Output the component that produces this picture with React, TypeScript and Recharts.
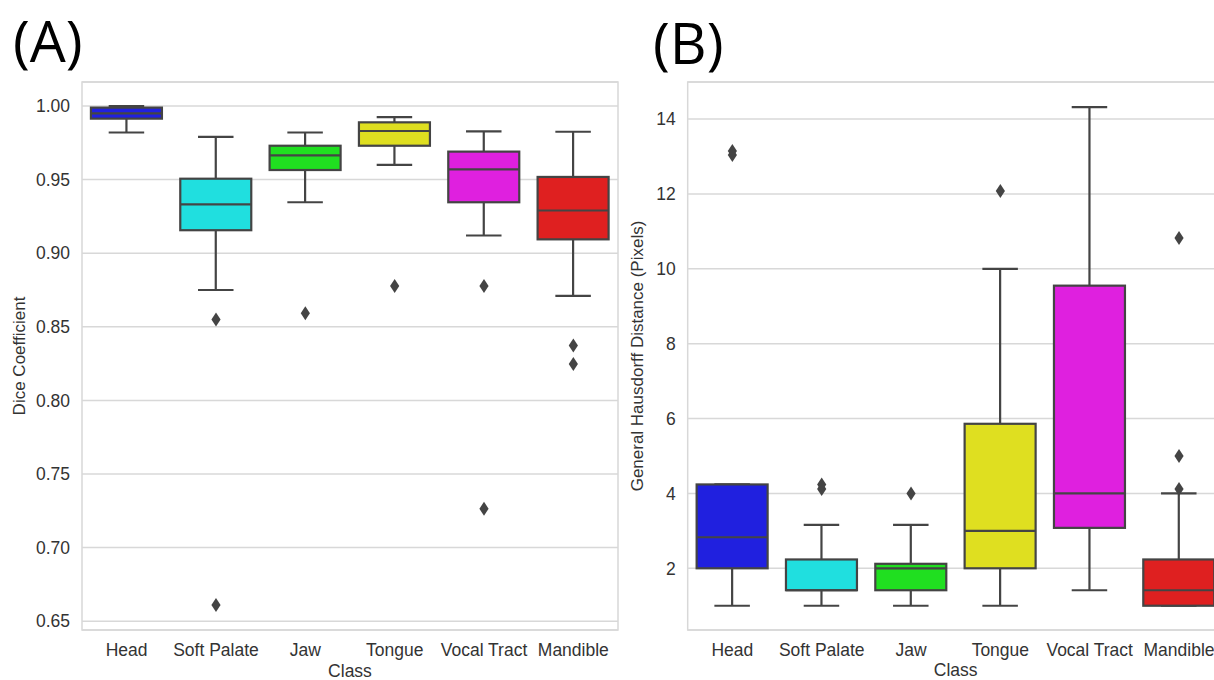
import React from 'react';
import { ComposedChart, Bar, Line, XAxis, YAxis, CartesianGrid, ReferenceArea } from 'recharts';

const classes = ['Head', 'Soft Palate', 'Jaw', 'Tongue', 'Vocal Tract', 'Mandible'];
const boxColors = ['#2020df', '#20dfdf', '#20df20', '#dfdf20', '#df20df', '#df2020'];

// Panel A: Dice coefficient
const diceLow = [0.982, 0.875, 0.9346, 0.96, 0.912, 0.871];
const diceQ1 = [0.9914, 0.9156, 0.9565, 0.973, 0.9346, 0.9094];
const diceMed = [0.995, 0.9332, 0.9665, 0.983, 0.957, 0.929];
const diceQ3 = [0.9989, 0.9506, 0.973, 0.9889, 0.969, 0.9518];
const diceHigh = [1.0, 0.979, 0.982, 0.9925, 0.9828, 0.9825];
const diceOutliers = [[], [0.855, 0.661], [0.8592], [0.8777], [0.8777, 0.7263], [0.8373, 0.8247]];
const diceTicks = [0.65, 0.7, 0.75, 0.8, 0.85, 0.9, 0.95, 1.0];
const diceDomain = [0.644, 1.0163];

// Panel B: General Hausdorff distance
const hausLow = [1.0, 1.0, 1.0, 1.0, 1.414, 1.0];
const hausQ1 = [2.0, 1.414, 1.414, 2.0, 3.08, 1.0];
const hausMed = [2.83, 1.414, 2.0, 3.0, 4.0, 1.414];
const hausQ3 = [4.24, 2.236, 2.12, 5.86, 9.55, 2.236];
const hausHigh = [4.24, 3.162, 3.162, 10.0, 14.32, 4.0];
const hausOutliers = [[13.04, 13.15], [4.12, 4.24], [4.0], [12.08], [], [4.12, 5.0, 10.82]];
const hausTicks = [2, 4, 6, 8, 10, 12, 14];
const hausDomain = [0.352, 14.99];

const LINE = '#444444';
const GRID = '#d8d8d8';
const FONT = '"Liberation Sans", Arial, sans-serif';

function buildRows(lo: number[], q1: number[], med: number[], q3: number[], hi: number[], out: number[][]) {
  return classes.map((c, i) => ({
    cls: c,
    color: boxColors[i],
    lo: lo[i],
    q1: q1[i],
    med: med[i],
    q3: q3[i],
    hi: hi[i],
    range: [lo[i], hi[i]],
    o0: out[i][0] ?? null,
    o1: out[i][1] ?? null,
    o2: out[i][2] ?? null,
  }));
}

const diceRows = buildRows(diceLow, diceQ1, diceMed, diceQ3, diceHigh, diceOutliers);
const hausRows = buildRows(hausLow, hausQ1, hausMed, hausQ3, hausHigh, hausOutliers);

function BoxShape(props: any) {
  const { x, y, width, height } = props;
  const p = props.payload ?? props;
  const top = Math.min(y, y + height);
  const bot = Math.max(y, y + height);
  const span = p.hi - p.lo;
  const py = (v: number) => (span === 0 ? top : bot - ((v - p.lo) / span) * (bot - top));
  const cx = x + width / 2;
  const cap = width / 4;
  const yq1 = py(p.q1);
  const yq3 = py(p.q3);
  const ym = py(p.med);
  return (
    <g>
      <line x1={cx} x2={cx} y1={bot} y2={yq1} stroke={LINE} strokeWidth={2.2} />
      <line x1={cx} x2={cx} y1={yq3} y2={top} stroke={LINE} strokeWidth={2.2} />
      <line x1={cx - cap} x2={cx + cap} y1={bot} y2={bot} stroke={LINE} strokeWidth={2.2} />
      <line x1={cx - cap} x2={cx + cap} y1={top} y2={top} stroke={LINE} strokeWidth={2.2} />
      <rect x={x} y={yq3} width={width} height={Math.max(yq1 - yq3, 0.5)} fill={p.color} stroke={LINE} strokeWidth={2.2} />
      <line x1={x} x2={x + width} y1={ym} y2={ym} stroke={LINE} strokeWidth={2.2} />
    </g>
  );
}

function Diamond(props: any) {
  const { cx, cy, value } = props;
  if (value == null || cy == null || cx == null || isNaN(cy)) return null;
  const w = 4.6;
  const h = 7;
  return <polygon points={`${cx},${cy - h} ${cx + w},${cy} ${cx},${cy + h} ${cx - w},${cy}`} fill={LINE} />;
}

function YTitle(props: any) {
  const { viewBox, text, dx } = props;
  if (!viewBox) return null;
  const cx = viewBox.x + dx;
  const cy = viewBox.y + viewBox.height / 2;
  return (
    <text x={cx} y={cy} transform={`rotate(-90 ${cx} ${cy})`} textAnchor="middle" dominantBaseline="central" fontSize={17} fill="#333" fontFamily={FONT}>
      {text}
    </text>
  );
}

function XTitle(props: any) {
  const { viewBox, text } = props;
  if (!viewBox) return null;
  const cx = viewBox.x + viewBox.width / 2;
  return (
    <text x={cx} y={viewBox.y + 46.5} textAnchor="middle" fontSize={17.5} fill="#333" fontFamily={FONT}>
      {text}
    </text>
  );
}

function BoxPanel(props: any) {
  const { rows, ticks, domain, fmt, yTitle, yWidth, yTitleDx, width } = props;
  return (
    <ComposedChart
      width={width}
      height={680}
      data={rows}
      margin={{ top: 82, right: 2, bottom: 0, left: 0 }}
      barCategoryGap="10%"
    >
      <CartesianGrid vertical={false} stroke={GRID} strokeWidth={1.5} />
      <XAxis
        dataKey="cls"
        type="category"
        interval={0}
        height={50}
        tickLine={false}
        axisLine={false}
        tickSize={0}
        tickMargin={14}
        tick={{ fontSize: 17.5, fill: '#333', fontFamily: FONT }}
        label={<XTitle text="Class" />}
      />
      <YAxis
        type="number"
        domain={domain}
        ticks={ticks}
        width={yWidth}
        tickLine={false}
        axisLine={false}
        tickSize={0}
        tickMargin={12}
        tickFormatter={fmt}
        tick={{ fontSize: 17.5, fill: '#333', fontFamily: FONT }}
        label={<YTitle text={yTitle} dx={yTitleDx} />}
      />
      <ReferenceArea y1={domain[0]} y2={domain[1]} fill="none" stroke={GRID} strokeWidth={1.5} ifOverflow="visible" />
      <Bar dataKey="range" shape={<BoxShape />} isAnimationActive={false} legendType="none" />
      <Line dataKey="o0" stroke="none" dot={<Diamond />} activeDot={false} isAnimationActive={false} legendType="none" />
      <Line dataKey="o1" stroke="none" dot={<Diamond />} activeDot={false} isAnimationActive={false} legendType="none" />
      <Line dataKey="o2" stroke="none" dot={<Diamond />} activeDot={false} isAnimationActive={false} legendType="none" />
    </ComposedChart>
  );
}

export default function App() {
  return (
    <div style={{ position: 'fixed', left: 0, top: 0, width: 1214, height: 680, overflow: 'hidden', background: '#fff' }}>
      <div style={{ position: 'absolute', left: 0, top: 0 }}>
        <BoxPanel
          rows={diceRows}
          ticks={diceTicks}
          domain={diceDomain}
          fmt={(v: number) => v.toFixed(2)}
          yTitle="Dice Coefficient"
          yWidth={82}
          yTitleDx={19}
          width={620}
        />
      </div>
      <div style={{ position: 'absolute', left: 620, top: 0 }}>
        <BoxPanel
          rows={hausRows}
          ticks={hausTicks}
          domain={hausDomain}
          fmt={(v: number) => String(v)}
          yTitle="General Hausdorff Distance (Pixels)"
          yWidth={67.7}
          yTitleDx={18}
          width={605.7}
        />
      </div>
      <svg style={{ position: 'absolute', left: 0, top: 0, pointerEvents: 'none' }} width={1214} height={90}>
        <text x={13} y={62} fontSize={57} fontFamily='"Open Sans", "Noto Sans", sans-serif' fill="#000">(A)</text>
        <text x={653} y={64} fontSize={57} fontFamily='"Open Sans", "Noto Sans", sans-serif' fill="#000">(B)</text>
      </svg>
    </div>
  );
}
